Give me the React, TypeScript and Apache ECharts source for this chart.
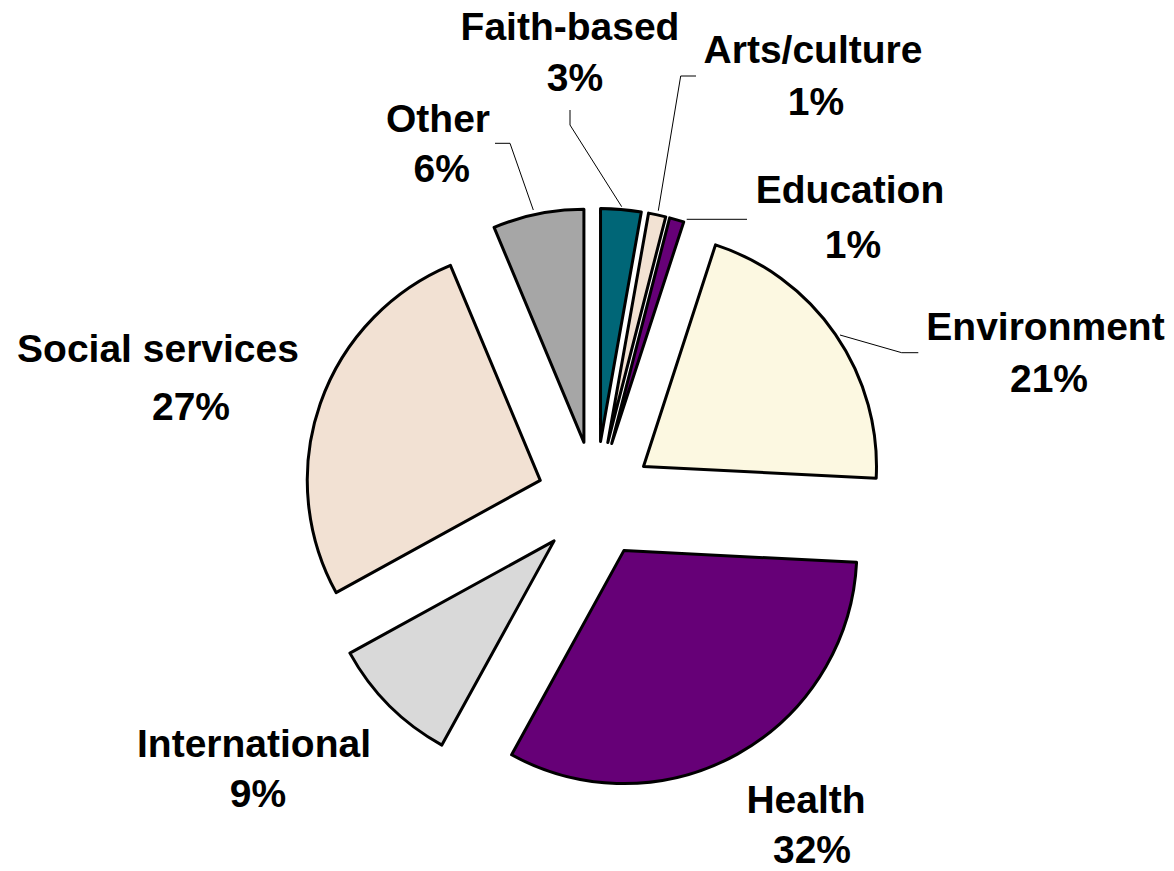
import React, { useEffect, useRef } from "react";
import * as echarts from "echarts";

// ---- data ----
const categories = [
  "Faith-based",
  "Arts/culture",
  "Education",
  "Environment",
  "Health",
  "International",
  "Social services",
  "Other",
];
const shares = [2.8, 1.2, 1.0, 20.8, 32.2, 9.0, 26.7, 6.3];
const sliceColors = [
  "#006677",
  "#F2E2D3",
  "#660077",
  "#FCF8E1",
  "#660077",
  "#D9D9D9",
  "#F2E1D3",
  "#A6A6A6",
];

// ---- label layout (positions only) ----
type LabelPos = { nx: number; ny: number; px: number; py: number };
const labelPos: Record<string, LabelPos> = {
  "Faith-based": { nx: 570, ny: 40, px: 575, py: 90.7 },
  "Arts/culture": { nx: 813, ny: 63.3, px: 816, py: 115 },
  Education: { nx: 850, ny: 203.3, px: 853, py: 257.7 },
  Environment: { nx: 1045.5, ny: 340, px: 1049, py: 391.7 },
  Health: { nx: 806, ny: 813.3, px: 812, py: 863 },
  International: { nx: 254, ny: 756.7, px: 258, py: 806.7 },
  "Social services": { nx: 158, ny: 361.7, px: 191, py: 420 },
  Other: { nx: 438, ny: 131.7, px: 441.7, py: 181.7 },
};
const leaderLines: number[][][] = [
  [[570, 110], [570, 125], [621.7, 206.7]],
  [[696, 76], [680.7, 76], [658.3, 210.7]],
  [[747, 219.3], [686.7, 219.3]],
  [[918.3, 352.7], [901.7, 352.7], [840, 335]],
  [[495, 143.3], [510, 143.3], [533.3, 210]],
];

const FONT_SIZE = 39;
const FONT_FAMILY = "'Liberation Sans', Arial, Helvetica, sans-serif";

export default function App() {
  const ref = useRef<HTMLDivElement>(null);

  useEffect(() => {
    if (!ref.current) return;
    const chart = echarts.init(ref.current, null, { renderer: "svg" });
    const total = shares.reduce((a, b) => a + b, 0);
    const central = 0.3465 * FONT_SIZE;

    const textEls: any[] = [];
    categories.forEach((name, i) => {
      const p = labelPos[name];
      const pct = Math.round((shares[i] / total) * 100) + "%";
      const base = {
        fill: "#000",
        fontSize: FONT_SIZE,
        fontWeight: "bold",
        fontFamily: FONT_FAMILY,
        align: "center",
        verticalAlign: "middle",
      };
      textEls.push({
        type: "text",
        x: p.nx,
        y: p.ny - central,
        silent: true,
        style: { ...base, text: name },
      });
      textEls.push({
        type: "text",
        x: p.px,
        y: p.py - central,
        silent: true,
        style: { ...base, text: pct },
      });
    });
    const lineEls = leaderLines.map((pts) => ({
      type: "polyline",
      silent: true,
      shape: { points: pts },
      style: { stroke: "#000", lineWidth: 1, fill: null },
    }));

    chart.setOption({
      animation: false,
      backgroundColor: "#ffffff",
      series: [
        {
          type: "pie",
          center: [595.4, 499.6],
          radius: 233,
          startAngle: 90,
          clockwise: true,
          selectedMode: "multiple",
          selectedOffset: 58.4,
          label: { show: false },
          labelLine: { show: false },
          emphasis: { disabled: true },
          itemStyle: { borderColor: "#000", borderWidth: 3 },
          select: { itemStyle: { borderColor: "#000", borderWidth: 3 } },
          data: categories.map((name, i) => ({
            name,
            value: shares[i],
            selected: true,
            itemStyle: { color: sliceColors[i] },
            select: { itemStyle: { color: sliceColors[i] } },
          })),
        },
      ],
      graphic: [...lineEls, ...textEls],
    });
    return () => chart.dispose();
  }, []);

  return (
    <div
      ref={ref}
      style={{ position: "fixed", left: 0, top: 0, width: 1174, height: 871 }}
    />
  );
}
